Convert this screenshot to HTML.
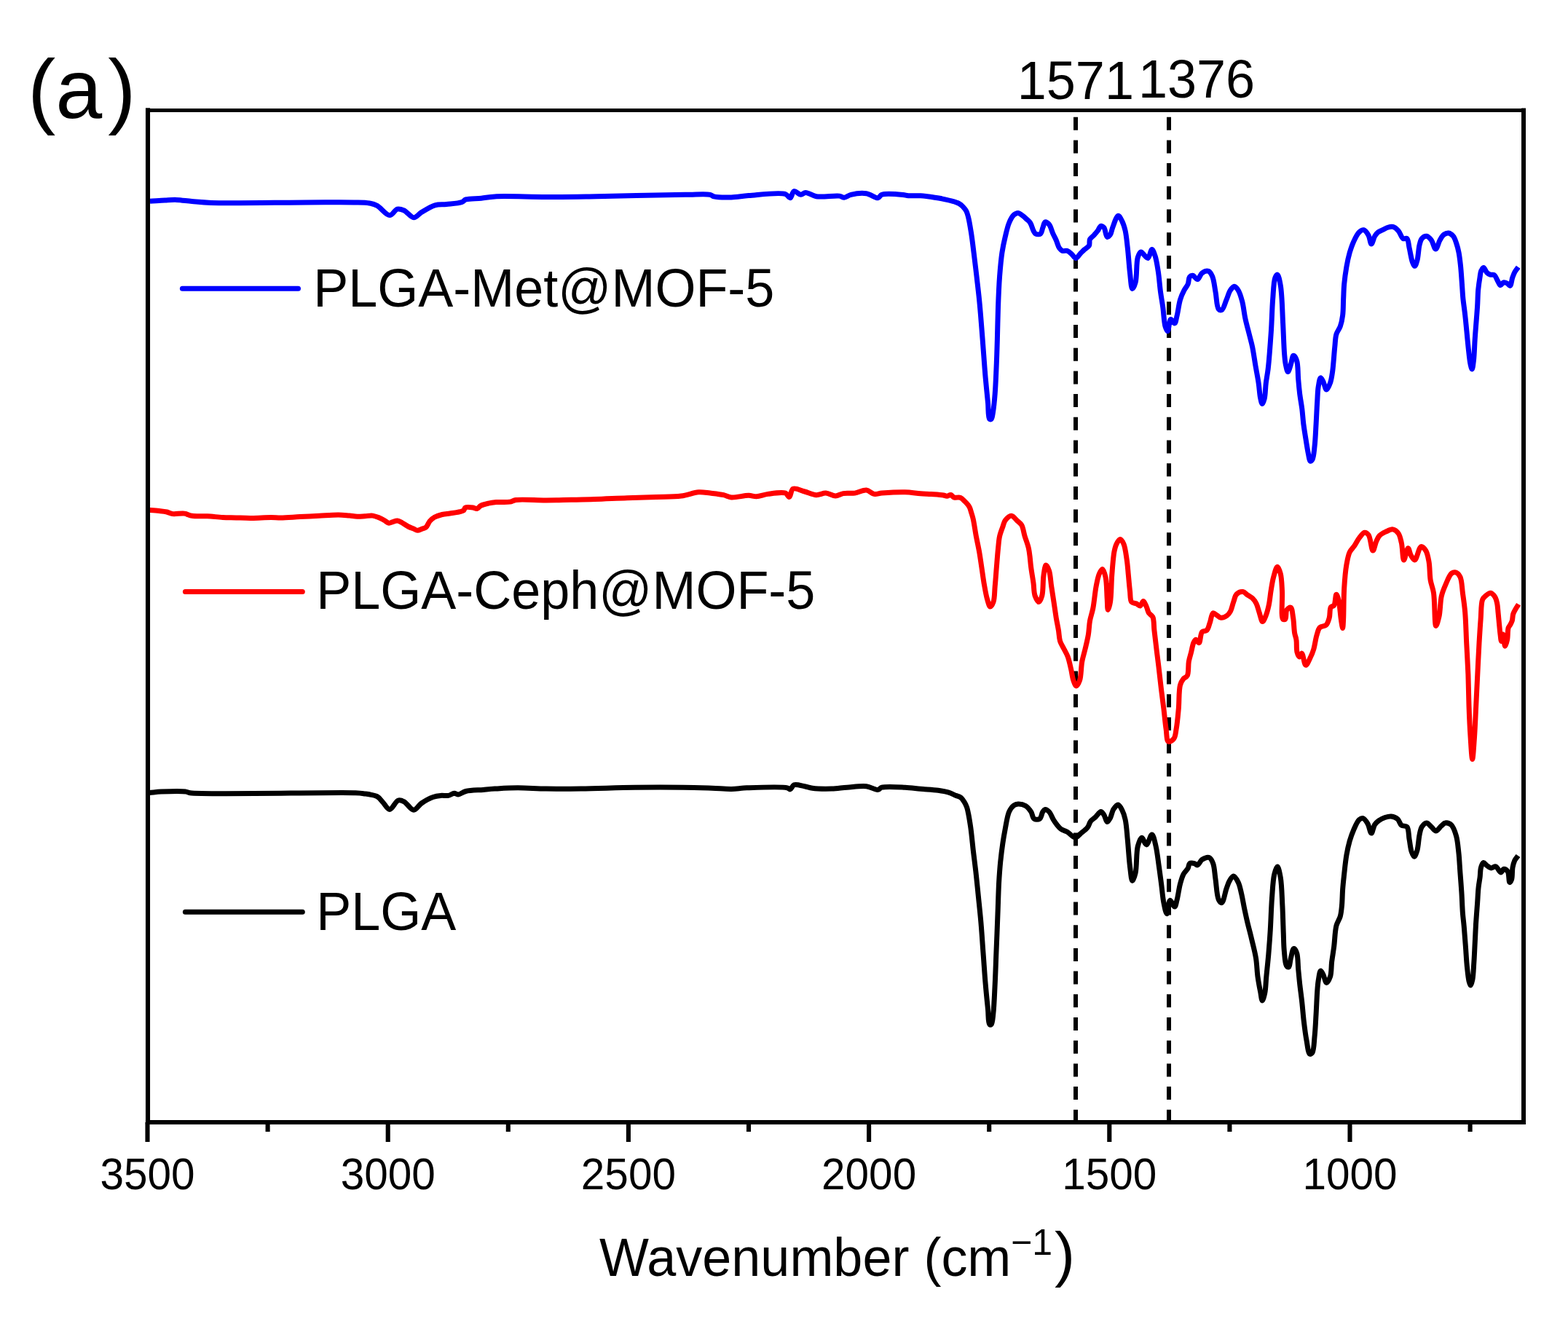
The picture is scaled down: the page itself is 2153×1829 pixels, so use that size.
<!DOCTYPE html>
<html><head><meta charset="utf-8"><title>FTIR spectra</title>
<style>html,body{margin:0;padding:0;background:#fff;}svg{display:block;}</style>
</head><body>
<svg width="2153" height="1829" viewBox="0 0 2153 1829">
<rect width="2153" height="1829" fill="#fff"/>
<g stroke="#000" stroke-width="6" stroke-dasharray="18 13.7">
<line x1="1477" y1="160.7" x2="1477" y2="1538"/>
<line x1="1605" y1="160.7" x2="1605" y2="1538"/>
</g>
<g fill="none" stroke-width="7.0" stroke-linejoin="round" stroke-linecap="butt">
<path stroke="#0000ff" d="M206.0,276.3C212.8,275.9 220.1,275.3 226.5,275.0C232.1,274.7 236.7,274.2 242.4,274.4C249.0,274.6 256.1,275.9 263.6,276.5C271.9,277.2 277.9,278.0 290.0,278.4C316.9,279.3 383.7,278.0 419.8,277.9C445.5,277.9 470.1,277.5 486.0,277.9C495.0,278.1 501.4,277.9 507.2,279.0C511.4,279.8 514.0,280.4 517.8,282.4C523.1,285.2 530.0,295.7 535.0,295.6C539.0,295.6 542.0,288.0 545.6,287.1C548.6,286.4 551.7,287.6 554.9,289.0C559.1,290.9 563.9,298.7 568.1,298.8C571.8,298.9 574.6,294.1 578.7,291.6C583.9,288.4 591.1,283.6 597.2,281.8C602.5,280.2 607.4,281.1 613.1,280.5C619.7,279.8 629.7,279.4 634.3,277.6C636.8,276.6 637.1,274.8 639.6,273.9C644.2,272.3 654.0,273.0 660.8,272.3C667.2,271.6 671.1,270.4 679.3,269.9C695.2,268.9 726.6,270.5 750.0,270.5C773.1,270.5 792.7,270.1 818.9,269.7C853.8,269.2 912.5,267.6 940.7,267.3C955.7,267.2 968.7,265.8 975.1,267.3C977.7,267.9 977.9,269.3 980.4,269.9C985.4,271.2 996.3,271.2 1004.2,271.0C1012.1,270.8 1018.6,269.3 1028.0,268.6C1041.7,267.6 1069.7,263.6 1078.4,266.5C1082.0,267.7 1083.1,272.2 1085.0,271.8C1087.1,271.4 1087.8,263.2 1090.3,262.5C1092.7,261.8 1096.7,267.2 1099.6,267.3C1102.0,267.4 1103.5,264.5 1106.2,264.4C1110.1,264.3 1114.9,268.7 1120.8,269.7C1129.2,271.1 1145.9,268.2 1152.5,269.1C1155.6,269.5 1156.8,271.3 1159.2,271.2C1162.0,271.1 1164.6,268.2 1168.4,267.3C1173.9,266.0 1183.1,264.8 1189.6,265.7C1195.4,266.5 1201.7,272.4 1205.5,271.8C1207.9,271.4 1208.1,268.3 1210.8,267.3C1216.4,265.3 1233.6,266.9 1240.0,267.5C1243.2,267.8 1244.3,268.5 1247.2,268.7C1251.6,269.1 1258.7,268.4 1264.1,268.7C1269.1,269.0 1273.7,269.7 1278.5,270.4C1283.3,271.1 1288.2,271.8 1293.0,272.8C1297.8,273.8 1303.1,274.9 1307.4,276.2C1311.0,277.2 1314.4,278.2 1317.0,279.6C1319.0,280.7 1320.3,281.9 1321.8,283.4C1323.5,285.2 1325.4,287.3 1326.7,289.7C1328.1,292.2 1328.7,294.8 1329.6,298.3C1331.0,303.7 1332.2,311.5 1333.4,318.9C1334.8,327.5 1335.9,337.2 1337.1,346.9C1338.4,357.3 1339.7,368.5 1341.0,379.3C1342.2,390.1 1343.5,400.8 1344.6,411.6C1345.7,422.4 1346.5,432.4 1347.4,443.9C1348.5,457.2 1349.7,473.7 1350.7,487.0C1351.6,498.5 1352.2,508.4 1353.2,519.3C1354.2,530.4 1355.5,542.9 1356.5,553.0C1357.3,561.2 1356.5,573.5 1358.6,575.4C1359.3,576.0 1360.5,575.9 1361.2,575.4C1362.5,574.4 1362.7,570.4 1363.4,566.7C1364.5,560.4 1365.5,549.9 1366.2,540.8C1367.0,530.6 1367.4,520.0 1367.9,508.5C1368.5,495.2 1369.0,479.8 1369.4,465.4C1369.8,451.0 1370.0,436.7 1370.5,422.3C1371.0,408.0 1371.6,392.6 1372.6,379.3C1373.5,367.7 1374.4,356.6 1375.9,346.9C1377.1,339.0 1378.5,332.4 1380.2,325.4C1381.8,318.7 1383.3,311.4 1385.6,306.0C1387.4,301.7 1389.5,297.5 1392.0,295.2C1393.8,293.6 1396.1,292.3 1398.0,292.4C1399.7,292.5 1401.1,294.0 1402.8,295.2C1404.9,296.6 1407.3,298.7 1409.3,300.6C1411.2,302.4 1413.1,303.7 1414.6,306.0C1416.5,308.8 1417.5,314.1 1419.0,316.8C1420.0,318.6 1420.7,320.4 1422.2,321.1C1423.8,321.9 1427.0,322.2 1428.6,321.1C1430.5,319.8 1430.8,315.3 1431.9,312.5C1433.0,309.9 1433.5,305.4 1435.1,304.9C1436.5,304.5 1438.9,306.4 1440.5,308.2C1442.8,310.9 1444.1,317.3 1445.9,321.1C1447.4,324.3 1448.8,326.6 1450.2,329.7C1451.7,333.1 1452.7,337.9 1454.5,340.5C1455.8,342.3 1457.1,343.7 1458.8,344.4C1460.6,345.1 1463.2,343.7 1465.3,344.4C1467.6,345.1 1469.7,347.4 1471.7,349.1C1473.6,350.8 1475.2,354.5 1477.1,354.5C1479.2,354.5 1481.5,350.1 1483.6,348.0C1485.5,346.1 1487.1,344.4 1489.0,342.6C1491.0,340.8 1494.1,339.5 1495.4,337.2C1496.7,334.9 1495.3,331.0 1496.5,328.6C1497.6,326.4 1500.1,325.1 1501.9,323.2C1503.7,321.2 1505.7,319.0 1507.3,316.8C1508.9,314.7 1509.9,310.7 1511.6,310.3C1512.9,310.0 1514.7,311.1 1515.9,312.5C1517.9,314.9 1518.2,324.8 1520.2,325.4C1521.4,325.8 1523.3,323.8 1524.5,322.2C1526.1,320.0 1526.3,316.1 1527.7,312.5C1529.6,307.7 1532.9,296.5 1535.4,296.3C1537.2,296.1 1539.3,300.9 1540.8,303.9C1542.6,307.5 1543.9,311.8 1545.1,316.8C1546.6,323.4 1547.3,331.9 1548.3,340.5C1549.5,350.9 1550.3,364.8 1551.5,374.9C1552.5,383.0 1553.1,396.2 1554.8,396.5C1556.0,396.7 1558.0,391.9 1559.1,387.9C1561.3,380.4 1560.0,360.6 1562.3,353.4C1563.4,349.8 1564.9,346.1 1566.6,345.9C1568.2,345.7 1570.3,349.7 1572.0,351.2C1573.5,352.5 1575.0,354.8 1576.3,354.5C1578.4,354.0 1580.0,342.6 1581.7,342.6C1583.2,342.6 1584.8,347.6 1586.0,351.2C1587.9,356.7 1589.1,365.1 1590.3,372.8C1591.7,381.5 1592.3,392.1 1593.5,400.8C1594.5,408.4 1595.8,414.8 1596.8,422.3C1597.9,430.5 1598.3,442.5 1600.0,448.2C1600.9,451.2 1602.2,454.8 1603.2,454.7C1604.8,454.5 1605.4,439.1 1607.6,438.5C1609.1,438.1 1611.5,444.2 1612.9,443.9C1614.6,443.5 1615.1,437.3 1616.2,433.1C1617.7,427.2 1618.6,417.8 1620.5,411.6C1622.0,406.6 1623.9,402.4 1625.9,398.6C1627.6,395.4 1629.9,393.1 1631.2,390.0C1632.4,387.0 1631.9,382.2 1633.4,380.3C1634.5,379.0 1636.2,378.0 1637.7,378.2C1639.7,378.4 1642.2,383.8 1644.2,383.6C1646.5,383.3 1647.9,376.8 1650.6,374.9C1653.0,373.2 1657.0,371.6 1659.3,372.4C1661.6,373.2 1663.2,376.1 1664.6,379.3C1666.9,384.3 1667.6,393.5 1669.0,400.8C1670.5,408.5 1670.5,421.5 1673.3,424.5C1674.5,425.8 1676.3,426.2 1677.6,425.6C1680.1,424.4 1682.0,416.2 1684.0,411.6C1685.9,407.2 1687.2,401.8 1689.4,398.6C1691.0,396.2 1693.0,393.3 1694.8,393.3C1696.6,393.3 1698.6,396.1 1700.2,398.6C1702.5,402.2 1704.1,408.0 1705.6,413.7C1707.5,420.6 1708.2,429.7 1709.9,437.4C1711.5,444.8 1713.6,452.2 1715.3,459.0C1716.8,465.1 1718.3,469.9 1719.6,476.2C1721.2,483.9 1722.5,493.6 1723.9,502.0C1725.3,510.1 1727.0,518.2 1728.1,525.9C1729.2,533.0 1729.5,541.1 1730.6,546.3C1731.3,549.7 1732.2,554.5 1733.2,554.5C1734.1,554.5 1735.4,550.4 1736.2,547.3C1737.5,542.1 1737.4,532.9 1738.3,525.9C1739.1,519.0 1740.4,513.8 1741.3,505.5C1742.8,492.4 1744.3,470.9 1745.4,454.7C1746.4,439.8 1746.6,424.7 1747.6,411.6C1748.5,400.6 1748.7,386.8 1750.8,381.4C1751.7,379.1 1753.0,376.9 1754.0,377.1C1755.7,377.4 1757.2,385.6 1758.3,392.2C1760.4,404.2 1760.7,427.4 1761.6,443.9C1762.4,458.9 1762.8,476.7 1763.7,487.0C1764.2,492.7 1764.4,496.3 1765.3,500.4C1766.1,504.1 1767.2,510.6 1768.4,510.6C1769.6,510.6 1771.2,504.0 1772.4,500.4C1773.7,496.5 1774.4,488.4 1776.0,488.2C1777.3,488.0 1779.5,492.0 1780.6,495.3C1782.5,501.0 1782.0,512.8 1782.7,520.8C1783.3,528.0 1783.9,534.4 1784.7,541.2C1785.6,548.0 1786.9,554.8 1787.8,561.6C1788.6,568.4 1789.0,575.2 1789.8,582.0C1790.7,588.8 1791.8,595.6 1792.9,602.4C1794.0,609.2 1795.2,617.3 1796.4,622.9C1797.3,626.9 1797.6,632.6 1799.0,633.1C1799.8,633.4 1801.2,632.3 1802.0,631.0C1803.9,628.0 1804.3,619.6 1805.1,612.7C1806.1,603.8 1806.5,592.2 1807.1,582.0C1807.7,571.8 1808.1,560.6 1808.7,551.4C1809.2,543.9 1809.2,536.9 1810.2,531.0C1811.0,526.4 1811.9,519.1 1813.3,518.8C1814.3,518.6 1815.7,521.8 1816.8,523.9C1818.4,526.8 1819.7,535.0 1821.4,535.1C1823.0,535.2 1825.2,529.5 1826.5,525.9C1828.1,521.5 1828.7,516.7 1829.6,510.6C1830.9,501.5 1831.8,485.7 1832.8,476.2C1833.5,469.5 1833.4,464.0 1834.9,459.0C1836.1,454.9 1838.9,452.2 1840.3,448.2C1841.9,443.7 1842.9,438.6 1843.6,433.1C1844.5,426.6 1844.3,418.8 1844.6,411.6C1845.0,404.4 1845.0,397.4 1845.7,390.0C1846.4,382.3 1847.6,373.8 1848.9,366.3C1850.1,359.5 1851.5,352.9 1853.2,346.9C1854.8,341.5 1856.4,336.6 1858.6,331.9C1860.7,327.3 1863.3,321.6 1866.2,318.9C1868.2,317.0 1870.6,315.3 1872.6,315.7C1875.0,316.2 1877.4,320.2 1879.1,323.2C1881.0,326.6 1881.5,335.0 1883.0,335.1C1884.4,335.2 1886.0,327.2 1887.7,324.3C1889.0,322.1 1890.2,320.3 1892.0,318.9C1893.8,317.4 1896.3,316.8 1898.5,315.7C1900.6,314.6 1902.6,313.2 1904.9,312.5C1907.3,311.8 1910.1,310.8 1912.5,311.4C1915.1,312.0 1917.8,314.4 1920.0,316.8C1922.6,319.6 1924.0,326.2 1926.5,327.6C1928.1,328.5 1930.5,326.5 1931.9,327.6C1934.0,329.3 1934.0,335.8 1935.1,340.5C1936.5,346.3 1937.7,355.5 1939.4,359.9C1940.4,362.4 1941.6,365.4 1942.6,365.3C1943.8,365.2 1945.0,361.0 1945.9,357.7C1947.4,352.4 1947.7,341.7 1949.1,336.2C1950.0,332.6 1950.5,329.6 1952.3,327.6C1953.9,325.8 1956.7,324.1 1958.8,324.3C1961.1,324.6 1963.4,327.3 1965.3,329.7C1967.7,332.8 1969.3,342.0 1971.3,342.0C1973.3,342.0 1975.0,333.2 1977.1,329.7C1978.8,326.8 1980.3,323.8 1982.5,322.2C1984.4,320.8 1986.9,319.7 1989.0,320.0C1991.2,320.3 1993.7,322.3 1995.4,324.3C1997.4,326.7 1998.5,330.5 1999.7,334.0C2001.1,338.0 2002.2,342.3 2003.1,347.0C2004.1,352.3 2004.7,357.6 2005.4,364.0C2006.3,372.2 2007.0,384.1 2007.6,392.4C2008.1,398.8 2008.2,403.3 2008.8,409.4C2009.5,416.4 2010.8,424.5 2011.6,432.0C2012.5,439.6 2013.1,447.1 2013.9,454.7C2014.6,462.3 2015.3,469.8 2016.1,477.4C2017.0,485.0 2017.8,494.8 2019.0,500.1C2019.7,503.1 2020.5,506.9 2021.2,506.9C2022.1,506.8 2022.9,499.4 2023.5,494.4C2024.4,486.9 2024.6,474.9 2025.2,466.0C2025.7,458.0 2026.3,450.9 2026.9,443.4C2027.5,435.8 2028.1,428.3 2028.6,420.7C2029.1,413.1 2029.1,405.0 2029.7,398.0C2030.3,391.9 2031.2,385.8 2032.0,381.0C2032.6,377.5 2032.6,374.4 2033.7,372.0C2034.5,370.1 2035.9,367.4 2037.1,367.4C2038.5,367.4 2039.9,372.5 2041.6,374.2C2043.0,375.6 2044.5,376.5 2046.2,377.1C2047.9,377.7 2050.2,376.6 2051.8,377.6C2053.8,378.9 2054.9,383.1 2056.4,385.6C2057.7,387.8 2058.9,391.6 2060.3,391.8C2061.5,391.9 2062.7,388.2 2064.3,387.8C2065.8,387.4 2067.9,388.2 2069.4,389.0C2070.9,389.8 2072.3,392.7 2073.4,392.4C2075.1,391.9 2075.6,384.4 2076.8,381.0C2077.9,378.1 2078.8,375.5 2080.2,373.1C2081.5,370.8 2083.2,368.9 2084.7,366.8"/>
<path stroke="#ff0000" d="M204.0,700.3C208.8,700.7 214.0,701.1 218.5,701.6C222.3,702.0 225.8,702.3 229.1,703.0C232.0,703.7 233.9,705.1 237.1,705.6C241.5,706.2 248.3,704.5 253.0,705.1C256.9,705.6 259.4,707.6 263.6,708.3C269.4,709.2 277.7,708.5 284.7,708.8C291.8,709.1 299.1,710.1 305.9,710.4C312.3,710.7 318.1,710.7 324.5,710.9C331.3,711.1 338.2,711.5 345.7,711.4C354.0,711.3 364.8,710.4 372.1,710.4C377.3,710.4 380.2,710.9 385.4,710.9C392.7,710.9 403.1,710.0 411.9,709.6C420.7,709.2 429.5,708.7 438.3,708.3C447.1,707.8 457.2,706.8 464.8,706.9C470.6,707.0 475.4,707.7 480.0,708.1C483.9,708.5 487.1,709.1 490.6,709.2C494.1,709.3 497.7,708.9 501.2,708.7C504.7,708.5 508.5,707.7 511.8,708.1C514.8,708.5 517.6,709.7 520.3,710.8C522.9,711.9 525.4,713.2 527.7,714.5C529.9,715.7 531.9,718.0 534.0,718.2C535.8,718.4 537.4,717.1 539.3,716.6C541.3,716.0 543.6,714.8 545.7,715.0C547.8,715.2 549.8,716.5 552.0,717.7C554.7,719.1 557.7,721.6 560.5,723.0C563.0,724.3 565.6,725.2 567.9,726.1C569.8,726.9 571.3,728.2 573.2,728.3C575.2,728.4 577.6,726.8 579.6,726.1C581.5,725.4 583.3,725.3 584.9,724.0C587.0,722.3 588.1,717.9 590.2,715.5C592.1,713.4 594.0,711.7 596.5,710.3C599.5,708.6 603.5,707.4 607.1,706.5C610.6,705.6 614.2,705.5 617.7,705.0C621.2,704.5 625.0,704.2 628.3,703.4C631.3,702.7 635.0,702.1 636.8,700.7C638.0,699.7 637.6,697.8 638.9,697.0C640.9,695.8 646.6,696.6 649.5,697.0C651.6,697.3 653.1,698.9 654.8,698.6C656.7,698.2 657.9,695.6 660.1,694.4C662.9,692.9 667.1,692.0 670.7,691.2C674.2,690.4 677.3,690.0 681.3,689.6C686.6,689.1 695.0,689.9 700.0,689.1C703.4,688.5 704.5,687.1 708.5,686.5C717.1,685.3 736.8,687.0 750.0,686.9C762.0,686.9 773.2,686.5 784.4,686.3C795.2,686.1 804.7,686.0 816.2,685.6C829.9,685.2 846.7,684.2 861.2,683.7C874.9,683.2 888.2,682.9 901.0,682.4C912.9,682.0 925.0,682.3 935.4,681.0C944.1,679.9 952.0,676.3 959.2,675.8C965.0,675.4 969.6,676.5 975.1,677.1C981.0,677.8 988.3,678.5 993.6,679.7C997.7,680.6 999.9,682.5 1004.2,682.9C1010.5,683.5 1021.7,680.2 1028.1,680.3C1032.3,680.4 1034.8,681.9 1038.7,681.8C1043.5,681.6 1048.7,679.2 1054.5,678.4C1061.6,677.4 1073.5,675.2 1078.4,677.1C1081.1,678.1 1082.1,682.7 1083.7,682.4C1085.8,682.0 1085.9,672.7 1089.0,671.2C1092.6,669.5 1099.6,673.6 1104.9,675.0C1110.2,676.4 1115.7,679.5 1120.8,679.7C1125.4,679.9 1129.6,676.9 1134.0,677.1C1138.4,677.3 1143.0,681.0 1147.2,681.0C1150.9,681.0 1153.9,678.3 1157.8,677.6C1162.5,676.8 1168.4,677.8 1173.7,677.1C1179.0,676.4 1184.9,672.6 1189.6,673.1C1193.6,673.5 1196.6,677.8 1200.2,678.4C1203.6,679.0 1206.3,677.5 1210.8,677.1C1218.6,676.5 1233.1,675.6 1242.6,675.8C1250.4,676.0 1257.6,677.3 1264.0,677.8C1269.3,678.2 1273.5,678.2 1278.5,678.5C1283.9,678.9 1291.5,679.3 1295.4,680.0C1297.5,680.4 1298.6,681.3 1300.2,681.2C1301.9,681.1 1303.9,679.2 1305.5,679.5C1307.1,679.8 1308.0,682.2 1309.8,682.9C1312.2,683.8 1316.5,682.4 1319.0,683.4C1321.2,684.3 1322.6,686.4 1324.3,688.0C1326.0,689.6 1327.8,691.5 1329.1,693.2C1330.1,694.5 1330.8,695.5 1331.5,697.0C1332.4,699.0 1333.1,701.9 1333.9,704.5C1334.7,707.2 1335.5,709.4 1336.3,713.0C1337.6,718.8 1338.9,728.6 1340.3,736.2C1341.7,743.5 1343.3,750.5 1344.6,757.7C1345.9,764.9 1346.8,772.1 1347.9,779.3C1349.0,786.5 1349.9,793.6 1351.1,800.8C1352.4,808.0 1353.7,816.4 1355.4,822.3C1356.7,826.6 1358.1,832.9 1359.7,833.1C1361.0,833.2 1362.9,829.6 1364.0,826.6C1365.8,821.7 1365.5,812.6 1366.2,805.1C1367.0,796.9 1367.6,787.9 1368.3,779.3C1369.0,770.7 1369.7,761.1 1370.5,753.4C1371.2,747.1 1371.4,741.5 1372.6,736.2C1373.7,731.5 1375.5,727.1 1376.9,723.2C1378.0,720.0 1378.4,717.0 1380.2,714.6C1382.2,712.0 1386.1,708.1 1388.8,708.2C1391.4,708.3 1393.9,712.4 1396.3,714.6C1398.6,716.7 1401.1,718.2 1402.8,721.1C1405.0,724.9 1405.5,731.0 1407.1,736.2C1408.8,741.8 1411.1,747.0 1412.5,753.4C1414.2,761.1 1414.6,771.1 1415.7,779.3C1416.7,786.8 1418.1,794.0 1419.0,800.8C1419.8,806.8 1419.5,813.4 1421.1,818.0C1422.4,821.5 1424.9,826.7 1426.5,826.6C1428.1,826.5 1429.7,821.8 1430.8,818.0C1432.6,811.5 1431.8,797.7 1433.0,790.0C1433.8,784.5 1434.7,776.2 1436.2,776.0C1437.4,775.8 1439.4,780.3 1440.5,783.6C1442.3,788.8 1442.6,797.9 1443.7,805.1C1444.8,812.3 1445.9,819.4 1447.0,826.6C1448.1,833.8 1449.1,841.4 1450.2,848.2C1451.2,854.3 1452.5,859.8 1453.4,865.4C1454.3,870.6 1454.2,876.0 1455.6,880.5C1456.9,884.5 1459.2,887.7 1461.0,891.3C1462.8,894.9 1464.8,897.9 1466.3,902.0C1468.1,907.0 1469.4,913.7 1470.7,919.3C1471.9,924.5 1472.4,930.3 1473.9,934.4C1475.0,937.4 1476.4,941.8 1477.8,941.9C1479.2,942.0 1481.3,937.8 1482.5,934.4C1484.6,928.5 1484.3,916.2 1485.7,908.5C1486.9,902.1 1488.6,897.2 1490.0,891.3C1491.5,885.0 1493.2,878.4 1494.3,871.9C1495.4,865.5 1495.4,858.7 1496.5,852.5C1497.6,846.6 1499.5,841.9 1500.8,835.3C1502.5,826.7 1503.4,813.7 1505.1,805.1C1506.4,798.5 1507.5,792.2 1509.4,787.9C1510.6,785.1 1512.4,781.3 1513.7,781.4C1515.3,781.6 1516.9,787.6 1518.0,792.2C1519.7,799.6 1519.6,814.0 1520.2,822.3C1520.6,828.2 1520.5,837.3 1521.3,837.4C1522.0,837.5 1523.7,831.3 1524.5,826.6C1526.0,818.1 1525.8,801.8 1526.7,790.0C1527.6,778.9 1528.4,765.5 1529.9,757.7C1530.8,753.1 1531.5,749.9 1533.1,746.9C1534.4,744.3 1536.6,740.5 1538.2,740.5C1539.8,740.5 1541.6,743.9 1542.9,746.9C1545.1,751.8 1546.1,761.3 1547.2,768.5C1548.3,775.6 1548.7,782.8 1549.4,790.0C1550.1,797.2 1550.7,805.1 1551.5,811.6C1552.2,817.1 1551.5,823.9 1553.7,826.6C1555.2,828.4 1558.2,827.9 1560.2,828.8C1562.1,829.7 1563.9,832.3 1565.5,832.0C1567.2,831.6 1568.5,825.5 1569.9,825.6C1571.4,825.7 1573.0,830.5 1574.2,833.1C1575.5,835.8 1575.9,839.3 1577.4,841.7C1578.8,843.9 1581.5,844.5 1582.8,847.1C1584.8,851.2 1584.1,858.7 1584.9,865.4C1585.9,873.7 1587.1,884.3 1588.2,893.4C1589.3,902.2 1590.4,910.5 1591.4,919.3C1592.5,928.4 1593.5,938.2 1594.6,947.3C1595.7,956.1 1596.8,964.3 1597.9,973.1C1599.0,982.2 1599.9,992.9 1601.1,1001.1C1602.1,1007.6 1601.7,1017.2 1604.3,1018.4C1606.1,1019.2 1610.1,1016.5 1611.9,1014.1C1614.1,1011.2 1614.2,1006.3 1615.1,1001.1C1616.5,993.6 1617.4,982.8 1618.3,973.1C1619.2,962.7 1618.5,948.0 1620.5,940.8C1621.6,936.9 1623.0,934.4 1624.8,932.2C1626.3,930.3 1628.9,930.2 1630.2,927.9C1632.4,924.0 1631.3,914.3 1632.3,908.5C1633.2,903.7 1634.5,899.9 1635.6,895.6C1636.7,891.3 1637.4,885.8 1638.8,882.7C1639.7,880.7 1640.8,878.4 1642.0,878.3C1643.3,878.2 1645.1,883.0 1646.3,882.7C1648.3,882.2 1648.1,870.3 1650.6,867.6C1652.3,865.8 1655.4,867.0 1657.1,865.4C1659.3,863.3 1660.0,858.5 1661.4,854.7C1662.9,850.6 1663.5,842.5 1665.7,841.7C1667.2,841.2 1669.3,843.9 1671.1,845.0C1672.9,846.1 1674.4,848.0 1676.5,848.2C1679.0,848.4 1682.9,846.6 1685.1,845.0C1687.0,843.6 1688.1,841.9 1689.4,839.6C1691.2,836.3 1692.2,830.7 1693.7,826.6C1695.1,822.8 1695.6,818.2 1698.0,815.9C1700.1,813.8 1704.0,812.3 1706.6,812.6C1709.0,812.9 1710.9,815.5 1713.1,817.0C1715.3,818.4 1717.7,819.5 1719.6,821.3C1721.7,823.3 1723.5,825.8 1725.0,828.8C1726.8,832.4 1727.8,837.5 1729.3,841.7C1730.7,845.8 1732.0,853.5 1733.6,853.6C1734.9,853.7 1736.6,849.0 1737.9,846.0C1739.6,841.9 1741.0,836.5 1742.2,831.0C1743.6,824.5 1744.2,816.2 1745.4,809.4C1746.4,803.3 1747.2,797.6 1748.7,792.2C1750.1,787.2 1752.3,778.2 1754.0,778.2C1755.5,778.2 1757.2,783.8 1758.3,787.9C1759.9,794.0 1760.0,802.7 1760.5,811.6C1761.2,822.9 1758.6,847.4 1761.6,850.3C1762.5,851.1 1764.0,851.0 1764.8,850.3C1766.5,848.9 1765.2,840.1 1767.0,837.4C1768.3,835.6 1770.9,833.6 1772.3,834.2C1774.4,835.1 1774.7,843.0 1775.6,848.2C1776.7,854.6 1776.7,864.2 1777.7,869.7C1778.3,873.2 1779.4,874.9 1779.9,878.3C1780.7,883.0 1779.8,891.3 1781.0,895.6C1781.7,898.3 1783.1,901.9 1784.2,902.0C1785.2,902.1 1786.4,897.0 1787.5,897.1C1789.3,897.4 1790.7,913.1 1792.9,913.3C1794.8,913.5 1797.6,906.2 1799.4,902.5C1801.2,899.0 1802.4,895.9 1803.7,891.7C1805.4,886.2 1806.3,877.8 1808.0,872.3C1809.3,868.1 1809.9,863.9 1812.3,861.6C1814.4,859.5 1818.8,860.3 1820.9,858.3C1823.2,856.1 1824.1,852.3 1825.2,848.6C1826.5,844.2 1825.5,836.2 1827.4,833.6C1828.5,832.1 1830.6,832.9 1831.7,831.4C1833.7,828.8 1833.6,816.4 1834.9,816.3C1835.9,816.2 1837.3,821.3 1838.2,825.0C1839.7,831.3 1840.3,843.9 1841.4,850.8C1842.1,855.5 1843.1,862.6 1843.6,862.6C1844.1,862.6 1844.3,856.0 1844.6,850.8C1845.1,840.9 1844.9,821.0 1845.7,807.7C1846.4,796.1 1847.3,784.4 1848.9,775.4C1850.1,768.7 1851.0,762.8 1853.2,758.2C1854.9,754.6 1857.6,752.6 1859.7,749.5C1861.9,746.2 1863.8,741.9 1866.2,738.8C1868.5,735.9 1871.3,731.5 1873.7,731.2C1875.6,731.0 1877.6,732.5 1879.1,734.5C1882.0,738.3 1883.1,755.9 1885.1,756.0C1886.7,756.1 1888.2,746.8 1889.9,743.1C1891.3,740.2 1892.2,737.6 1894.2,735.5C1896.4,733.2 1899.8,731.6 1902.8,730.2C1905.9,728.8 1909.6,726.5 1912.5,726.9C1915.3,727.3 1918.1,729.7 1920.0,732.3C1922.3,735.4 1923.1,740.2 1924.3,745.2C1925.9,751.8 1925.9,768.7 1927.6,768.9C1929.1,769.1 1931.6,752.8 1933.4,752.8C1934.8,752.8 1935.6,759.7 1937.3,762.5C1938.8,765.0 1940.8,769.1 1942.6,768.9C1945.4,768.5 1948.1,751.3 1951.3,750.6C1953.3,750.2 1956.0,753.4 1957.7,756.0C1960.0,759.5 1960.9,765.3 1962.0,771.1C1963.4,778.5 1962.9,789.2 1964.2,796.9C1965.3,803.3 1967.4,807.0 1968.5,814.2C1970.3,825.7 1969.6,859.1 1971.7,859.4C1972.8,859.5 1974.8,851.7 1976.0,846.5C1977.7,839.0 1977.5,826.3 1979.3,818.5C1980.7,812.6 1982.5,808.4 1984.7,803.4C1987.1,798.0 1990.0,789.6 1993.3,787.2C1995.3,785.8 1997.8,785.5 1999.7,786.2C2001.8,787.0 2003.7,789.6 2005.1,792.6C2007.3,797.5 2007.4,806.7 2008.4,814.2C2009.5,822.4 2010.8,830.3 2011.6,840.0C2012.7,852.5 2013.0,868.7 2013.7,883.1C2014.4,897.5 2015.3,911.8 2015.9,926.2C2016.4,940.6 2016.5,954.9 2017.0,969.3C2017.5,983.7 2018.2,999.3 2019.1,1012.4C2019.8,1023.3 2020.8,1042.5 2021.7,1042.5C2022.6,1042.5 2023.7,1023.3 2024.5,1012.4C2025.4,999.3 2026.0,983.7 2026.7,969.3C2027.4,954.9 2028.1,940.6 2028.8,926.2C2029.5,911.8 2030.2,896.4 2031.0,883.1C2031.7,871.6 2032.3,861.1 2033.1,850.8C2033.9,841.2 2033.4,828.6 2035.7,823.2C2036.8,820.5 2038.3,819.5 2040.1,818.0C2042.0,816.5 2044.6,814.1 2046.7,814.3C2048.8,814.5 2051.1,817.3 2052.6,819.5C2054.2,821.9 2054.9,825.0 2055.6,828.3C2056.5,832.2 2056.6,837.1 2057.1,841.6C2057.6,846.4 2058.0,851.4 2058.5,856.3C2059.0,861.2 2059.4,866.7 2060.0,871.1C2060.5,874.6 2060.9,880.6 2061.5,880.6C2062.1,880.6 2063.0,871.1 2063.7,871.1C2064.7,871.1 2065.4,887.2 2066.6,887.3C2067.5,887.4 2068.9,881.9 2069.6,878.4C2070.6,873.8 2070.0,865.6 2071.1,862.2C2071.7,860.4 2072.5,859.9 2073.3,858.5C2074.2,856.8 2075.5,854.9 2076.2,852.6C2077.1,849.9 2076.8,846.0 2077.7,843.1C2078.6,840.4 2080.1,838.0 2081.4,835.7C2082.6,833.6 2083.9,831.8 2085.1,829.8"/>
<path stroke="#000000" d="M205.3,1088.4C210.6,1088.0 214.9,1087.4 221.2,1087.1C230.5,1086.7 249.2,1086.2 255.6,1087.1C258.2,1087.5 257.8,1088.2 260.9,1088.7C280.8,1091.6 456.7,1087.6 486.0,1088.7C493.1,1089.0 494.5,1089.0 499.3,1089.7C505.0,1090.5 513.2,1091.2 517.8,1093.7C521.3,1095.6 523.0,1098.8 525.7,1101.6C528.7,1104.7 531.7,1111.4 535.0,1111.4C538.7,1111.4 543.0,1100.2 546.9,1099.0C549.6,1098.2 552.1,1099.4 554.9,1100.8C559.0,1102.9 563.9,1112.2 568.1,1112.2C571.8,1112.2 574.6,1105.8 578.7,1103.0C583.3,1099.8 589.7,1096.2 594.6,1094.5C598.4,1093.1 601.6,1092.7 605.2,1092.4C608.7,1092.1 612.6,1093.0 615.8,1092.4C618.7,1091.8 621.3,1089.3 623.7,1089.2C625.6,1089.1 626.9,1091.1 629.0,1091.0C631.9,1090.9 635.3,1087.6 639.6,1086.5C645.9,1084.9 656.4,1085.0 663.5,1084.4C669.3,1083.9 673.1,1083.5 679.3,1083.1C688.1,1082.6 700.0,1081.8 711.1,1081.8C723.4,1081.8 736.4,1082.9 750.0,1083.1C765.1,1083.4 780.1,1083.3 797.7,1083.1C819.7,1082.8 847.8,1081.5 871.8,1081.2C894.5,1080.9 918.7,1080.9 938.0,1081.2C952.9,1081.4 965.9,1081.9 977.8,1082.3C987.5,1082.6 995.9,1083.5 1004.2,1083.4C1011.7,1083.3 1016.7,1082.1 1025.4,1081.8C1039.5,1081.3 1073.2,1079.9 1081.0,1081.8C1083.2,1082.3 1083.7,1084.1 1085.0,1083.9C1086.8,1083.6 1087.8,1078.8 1090.3,1077.8C1093.7,1076.5 1100.4,1078.9 1104.9,1079.7C1108.7,1080.4 1111.1,1081.7 1115.5,1082.3C1122.3,1083.2 1133.7,1083.3 1142.0,1083.1C1149.4,1082.9 1155.7,1081.7 1163.1,1081.2C1171.4,1080.6 1182.0,1078.8 1189.6,1079.7C1195.6,1080.4 1201.7,1084.9 1205.5,1084.4C1207.8,1084.1 1208.1,1081.9 1210.8,1081.2C1216.8,1079.5 1233.0,1080.7 1242.6,1081.2C1250.5,1081.6 1256.7,1082.6 1264.1,1083.3C1271.9,1084.0 1281.1,1084.3 1288.1,1085.3C1293.6,1086.1 1298.3,1086.9 1302.6,1088.2C1306.2,1089.3 1309.2,1090.9 1312.2,1092.2C1314.8,1093.3 1317.4,1093.7 1319.4,1095.3C1321.4,1096.9 1322.9,1099.4 1324.3,1101.6C1325.7,1103.8 1326.7,1106.0 1327.6,1108.6C1328.6,1111.5 1329.1,1114.3 1329.8,1118.0C1330.8,1123.1 1331.8,1129.3 1332.8,1136.2C1334.1,1145.4 1335.2,1157.7 1336.4,1168.5C1337.7,1179.3 1339.1,1190.0 1340.3,1200.8C1341.5,1211.6 1342.5,1222.3 1343.6,1233.1C1344.7,1243.9 1345.8,1253.9 1346.8,1265.4C1348.0,1278.7 1348.9,1294.1 1350.0,1308.5C1351.1,1322.9 1352.0,1338.0 1353.2,1351.6C1354.2,1363.7 1355.5,1376.0 1356.5,1386.0C1357.3,1393.7 1356.6,1404.7 1358.6,1406.5C1359.3,1407.1 1360.5,1407.1 1361.2,1406.5C1362.9,1405.1 1363.1,1398.1 1363.8,1392.0C1365.0,1381.9 1365.5,1365.3 1366.2,1351.6C1366.9,1337.5 1367.3,1323.7 1367.9,1308.5C1368.6,1291.6 1369.4,1271.6 1370.0,1254.7C1370.6,1239.5 1370.9,1224.4 1371.6,1211.6C1372.2,1201.3 1372.8,1192.7 1373.7,1183.6C1374.6,1174.8 1375.7,1165.7 1376.9,1157.7C1377.9,1150.8 1378.9,1145.1 1380.2,1138.3C1381.7,1130.8 1383.0,1120.3 1385.6,1114.6C1387.4,1110.8 1389.6,1107.8 1392.0,1106.0C1393.8,1104.6 1395.7,1104.0 1398.0,1103.9C1400.9,1103.8 1405.3,1104.7 1408.2,1106.4C1411.2,1108.2 1413.7,1111.6 1415.7,1114.6C1417.6,1117.6 1417.7,1122.8 1420.0,1124.3C1421.9,1125.6 1425.7,1125.6 1427.6,1124.3C1429.9,1122.8 1430.3,1116.9 1431.9,1114.6C1432.9,1113.1 1433.8,1111.6 1435.1,1111.4C1436.6,1111.2 1438.8,1112.9 1440.5,1114.6C1443.0,1117.1 1444.4,1122.7 1447.0,1126.5C1449.7,1130.6 1453.1,1135.6 1456.6,1138.3C1459.3,1140.4 1462.3,1140.5 1465.3,1142.2C1468.9,1144.3 1473.2,1150.2 1476.5,1150.2C1479.2,1150.2 1481.1,1146.9 1483.6,1144.8C1486.6,1142.3 1490.9,1139.3 1493.3,1136.2C1495.4,1133.5 1495.7,1130.0 1497.6,1127.6C1499.3,1125.4 1501.8,1124.2 1504.0,1122.2C1506.5,1119.9 1509.4,1114.6 1511.6,1114.6C1513.2,1114.6 1514.6,1117.0 1515.9,1118.9C1517.6,1121.4 1518.6,1128.4 1520.2,1128.6C1521.5,1128.8 1523.2,1125.5 1524.5,1123.2C1526.2,1120.1 1526.8,1114.6 1528.8,1111.4C1530.5,1108.7 1533.3,1104.7 1535.3,1104.9C1537.3,1105.1 1539.3,1109.5 1540.8,1112.5C1542.7,1116.1 1544.0,1120.2 1545.1,1125.4C1546.8,1132.9 1547.3,1143.4 1548.3,1153.4C1549.4,1164.8 1550.2,1179.7 1551.5,1190.0C1552.5,1197.5 1553.3,1209.2 1554.8,1209.4C1556.0,1209.5 1558.0,1203.4 1559.1,1198.6C1561.1,1190.1 1560.0,1170.7 1562.3,1162.0C1563.7,1156.8 1565.7,1150.4 1567.7,1150.2C1569.6,1150.0 1572.0,1160.0 1574.2,1159.9C1576.7,1159.8 1579.6,1145.7 1581.7,1145.9C1583.9,1146.1 1585.6,1155.8 1587.1,1162.0C1589.0,1170.0 1590.1,1181.0 1591.4,1190.0C1592.6,1198.2 1593.5,1205.6 1594.6,1213.7C1595.7,1222.1 1596.4,1232.2 1597.9,1239.6C1599.1,1245.4 1600.8,1254.7 1602.2,1254.7C1603.7,1254.7 1604.3,1236.8 1606.5,1236.3C1608.2,1236.0 1611.3,1245.3 1612.9,1245.0C1614.5,1244.8 1615.1,1239.2 1616.2,1235.3C1617.7,1229.6 1618.8,1219.9 1620.5,1213.7C1621.8,1208.8 1622.9,1204.5 1624.8,1200.8C1626.5,1197.5 1629.7,1195.0 1631.2,1192.2C1632.4,1190.0 1631.9,1186.8 1633.4,1185.7C1634.9,1184.7 1638.0,1185.2 1639.9,1185.7C1641.5,1186.1 1642.7,1188.2 1644.2,1187.9C1646.3,1187.5 1647.9,1182.0 1650.6,1180.3C1653.3,1178.6 1657.8,1176.6 1660.3,1177.5C1662.8,1178.4 1664.3,1182.1 1665.7,1185.7C1667.7,1191.0 1667.8,1199.6 1669.0,1207.3C1670.3,1216.0 1670.7,1230.2 1673.3,1235.3C1674.5,1237.6 1676.3,1239.9 1677.6,1239.6C1680.1,1239.0 1682.0,1225.7 1684.0,1220.2C1685.5,1216.1 1686.5,1212.4 1688.3,1209.4C1689.8,1206.8 1691.8,1203.0 1693.7,1203.0C1695.8,1203.1 1698.5,1208.1 1700.2,1211.6C1702.3,1215.8 1703.2,1221.1 1704.5,1226.6C1706.1,1233.1 1707.3,1241.2 1708.8,1248.2C1710.2,1254.8 1711.5,1261.0 1713.1,1267.6C1714.8,1274.6 1716.7,1281.5 1718.5,1289.1C1720.5,1297.5 1723.1,1306.9 1724.5,1315.7C1725.9,1324.2 1725.9,1333.2 1727.0,1341.2C1728.0,1348.4 1729.4,1355.7 1730.6,1361.6C1731.5,1366.2 1732.1,1373.8 1733.2,1373.9C1734.2,1374.0 1735.8,1367.8 1736.7,1363.7C1738.0,1357.7 1738.0,1349.3 1738.8,1341.2C1739.7,1331.8 1740.9,1321.1 1741.8,1310.6C1742.7,1299.5 1743.6,1288.3 1744.3,1276.2C1745.1,1262.6 1745.5,1246.4 1746.5,1233.1C1747.4,1221.5 1747.8,1208.6 1749.7,1200.8C1750.8,1196.1 1752.7,1189.9 1754.0,1190.0C1755.6,1190.1 1757.2,1198.8 1758.3,1205.1C1760.0,1215.0 1760.2,1231.2 1760.9,1243.9C1761.5,1256.1 1761.8,1269.0 1762.2,1280.0C1762.6,1289.2 1762.5,1297.5 1763.3,1305.5C1764.0,1312.7 1764.3,1322.7 1766.3,1325.9C1767.2,1327.3 1768.5,1328.3 1769.4,1328.0C1771.0,1327.4 1771.3,1319.9 1772.4,1315.7C1773.6,1311.3 1774.8,1302.6 1776.5,1302.4C1777.7,1302.2 1779.6,1305.7 1780.6,1308.6C1782.4,1313.6 1782.0,1323.7 1782.7,1331.0C1783.4,1338.0 1783.9,1344.2 1784.7,1351.4C1785.6,1359.4 1786.9,1368.4 1787.8,1376.9C1788.7,1385.4 1789.3,1393.9 1790.3,1402.4C1791.3,1410.9 1792.4,1420.1 1793.9,1428.0C1795.2,1434.9 1796.2,1446.3 1798.5,1447.3C1799.5,1447.7 1801.1,1446.7 1802.0,1445.3C1804.2,1442.0 1804.3,1431.0 1805.1,1422.9C1806.1,1413.5 1806.5,1402.4 1807.1,1392.2C1807.7,1382.0 1808.1,1370.0 1808.7,1361.6C1809.1,1355.6 1809.4,1351.2 1810.2,1346.3C1811.0,1341.7 1811.9,1333.4 1813.3,1333.1C1814.3,1332.9 1815.7,1336.1 1816.8,1338.2C1818.4,1341.1 1819.7,1349.3 1821.4,1349.4C1822.9,1349.5 1825.3,1344.7 1826.5,1341.2C1828.3,1336.1 1827.8,1327.6 1828.6,1320.8C1829.5,1314.0 1830.6,1307.8 1831.6,1300.4C1832.8,1291.5 1832.9,1278.8 1834.9,1271.1C1836.3,1265.8 1839.0,1262.8 1840.3,1258.2C1841.6,1253.4 1842.0,1248.6 1842.5,1243.1C1843.1,1236.6 1843.1,1228.8 1843.6,1221.6C1844.1,1214.4 1844.9,1207.5 1845.7,1200.0C1846.6,1191.8 1847.5,1182.2 1848.9,1174.2C1850.1,1167.2 1851.5,1160.8 1853.2,1154.8C1854.8,1149.4 1856.4,1144.6 1858.6,1139.7C1860.8,1134.9 1863.4,1128.2 1866.2,1125.7C1867.9,1124.2 1869.9,1123.2 1871.6,1123.6C1873.9,1124.2 1876.2,1128.1 1878.0,1131.1C1880.1,1134.7 1881.3,1144.0 1883.0,1144.0C1884.6,1144.0 1885.7,1135.2 1887.7,1132.2C1889.2,1129.9 1890.9,1128.4 1893.1,1126.8C1895.5,1125.1 1898.8,1123.5 1901.7,1122.5C1904.5,1121.6 1907.5,1120.7 1910.3,1121.0C1913.2,1121.3 1916.7,1122.6 1919.0,1124.6C1921.4,1126.6 1922.0,1131.4 1924.3,1133.2C1926.4,1134.8 1930.1,1133.4 1931.9,1135.4C1934.6,1138.4 1934.0,1146.9 1935.1,1152.6C1936.2,1158.4 1936.7,1165.6 1938.3,1169.9C1939.3,1172.7 1940.8,1176.4 1942.0,1176.3C1943.3,1176.2 1944.8,1171.3 1945.9,1167.7C1947.5,1162.2 1947.8,1152.1 1949.1,1146.2C1950.0,1141.9 1950.5,1138.2 1952.3,1135.4C1953.9,1133.0 1956.6,1130.0 1958.8,1130.0C1961.0,1130.0 1963.3,1133.6 1965.4,1135.4C1967.5,1137.2 1969.5,1140.9 1971.6,1140.9C1974.0,1140.9 1976.7,1136.0 1979.0,1134.1C1980.9,1132.5 1982.4,1130.3 1984.5,1130.0C1986.9,1129.6 1990.4,1130.7 1992.7,1132.7C1995.8,1135.5 1997.8,1142.0 1999.5,1147.7C2001.5,1154.5 2002.0,1162.8 2002.9,1170.8C2003.9,1179.5 2004.2,1188.9 2004.9,1198.0C2005.6,1207.1 2006.3,1216.1 2006.9,1225.2C2007.5,1234.3 2007.7,1244.0 2008.3,1252.4C2008.8,1259.7 2009.7,1265.6 2010.3,1272.9C2011.0,1281.3 2011.7,1291.0 2012.4,1300.1C2013.1,1309.2 2013.5,1318.9 2014.4,1327.3C2015.2,1334.6 2015.9,1343.1 2017.1,1347.7C2017.7,1350.1 2018.5,1353.1 2019.2,1353.1C2020.1,1353.1 2021.2,1348.5 2021.9,1345.0C2023.1,1339.1 2023.3,1328.9 2023.9,1320.5C2024.5,1311.7 2024.8,1302.4 2025.3,1293.3C2025.8,1284.2 2026.1,1275.2 2026.7,1266.1C2027.3,1257.0 2028.1,1247.2 2028.7,1238.8C2029.2,1231.5 2029.4,1224.5 2030.1,1218.4C2030.6,1213.4 2031.5,1209.3 2032.1,1204.8C2032.7,1200.3 2032.4,1194.9 2033.5,1191.2C2034.3,1188.5 2035.5,1184.7 2036.9,1184.4C2038.2,1184.1 2039.9,1187.3 2041.6,1188.5C2043.3,1189.8 2045.1,1191.6 2047.1,1191.9C2049.2,1192.2 2051.8,1189.3 2053.9,1189.9C2056.4,1190.7 2058.7,1198.0 2060.7,1198.0C2062.2,1198.0 2063.2,1193.5 2064.8,1193.3C2066.4,1193.1 2068.9,1194.7 2070.2,1196.7C2072.2,1199.7 2071.6,1211.3 2072.9,1211.6C2073.7,1211.8 2074.9,1209.5 2075.6,1207.6C2076.8,1204.1 2076.1,1195.9 2077.0,1191.2C2077.7,1187.6 2078.4,1184.5 2079.7,1181.7C2080.9,1179.1 2082.9,1177.2 2084.5,1174.9"/>
</g>
<g stroke="#000" stroke-linecap="square"><line x1="203" y1="151.4" x2="2092" y2="151.4" stroke-width="5"/><line x1="203" y1="1541" x2="2092" y2="1541" stroke-width="6.1"/><line x1="203" y1="151.4" x2="203" y2="1541" stroke-width="6.1"/><line x1="2092" y1="151.4" x2="2092" y2="1541" stroke-width="6"/></g>
<g stroke="#000" stroke-width="6.1"><line x1="202.5" y1="1541" x2="202.5" y2="1568"/><line x1="367.6" y1="1541" x2="367.6" y2="1554"/><line x1="532.7" y1="1541" x2="532.7" y2="1568"/><line x1="697.8" y1="1541" x2="697.8" y2="1554"/><line x1="862.9" y1="1541" x2="862.9" y2="1568"/><line x1="1028.0" y1="1541" x2="1028.0" y2="1554"/><line x1="1193.1" y1="1541" x2="1193.1" y2="1568"/><line x1="1358.2" y1="1541" x2="1358.2" y2="1554"/><line x1="1523.3" y1="1541" x2="1523.3" y2="1568"/><line x1="1688.4" y1="1541" x2="1688.4" y2="1554"/><line x1="1853.5" y1="1541" x2="1853.5" y2="1568"/><line x1="2018.6" y1="1541" x2="2018.6" y2="1554"/></g>
<text transform="translate(202.5,1632.5) scale(1,1.045)" x="0" y="0" font-family="'Liberation Sans', Arial, sans-serif" font-size="58.5" fill="#000" text-anchor="middle">3500</text>
<text transform="translate(532.7,1632.5) scale(1,1.045)" x="0" y="0" font-family="'Liberation Sans', Arial, sans-serif" font-size="58.5" fill="#000" text-anchor="middle">3000</text>
<text transform="translate(862.9,1632.5) scale(1,1.045)" x="0" y="0" font-family="'Liberation Sans', Arial, sans-serif" font-size="58.5" fill="#000" text-anchor="middle">2500</text>
<text transform="translate(1193.1,1632.5) scale(1,1.045)" x="0" y="0" font-family="'Liberation Sans', Arial, sans-serif" font-size="58.5" fill="#000" text-anchor="middle">2000</text>
<text transform="translate(1523.3,1632.5) scale(1,1.045)" x="0" y="0" font-family="'Liberation Sans', Arial, sans-serif" font-size="58.5" fill="#000" text-anchor="middle">1500</text>
<text transform="translate(1853.5,1632.5) scale(1,1.045)" x="0" y="0" font-family="'Liberation Sans', Arial, sans-serif" font-size="58.5" fill="#000" text-anchor="middle">1000</text>
<text transform="translate(823,1752) scale(1,1.025)" x="0" y="0" font-family="'Liberation Sans', Arial, sans-serif" font-size="72" fill="#000">Wavenumber (cm</text>
<text transform="translate(1388,1722.8) scale(1,1.0)" x="0" y="0" font-family="'Liberation Sans', Arial, sans-serif" font-size="50" fill="#000">−1</text>
<text transform="translate(1448,1751.3) scale(1,1.0)" x="0" y="0" font-family="'Liberation Sans', Arial, sans-serif" font-size="84" fill="#000">)</text>
<text transform="translate(1396.8,135.5) scale(1,1.04)" x="0" y="0" font-family="'Liberation Sans', Arial, sans-serif" font-size="72" fill="#000">1571</text>
<text transform="translate(1562.9,133.8) scale(1,1.04)" x="0" y="0" font-family="'Liberation Sans', Arial, sans-serif" font-size="72" fill="#000">1376</text>
<text font-family="'Liberation Sans', Arial, sans-serif" font-size="115" x="38" y="162.3" fill="#000">(a<tspan dx="8">)</tspan></text>
<g stroke-width="7" stroke-linecap="round">
<line x1="250.4" y1="396.3" x2="409.5" y2="396.3" stroke="#0000ff"/>
<line x1="254.4" y1="812.5" x2="415.3" y2="812.5" stroke="#ff0000"/>
<line x1="254.4" y1="1252.3" x2="415.3" y2="1252.3" stroke="#000"/>
</g>
<text transform="translate(430.3,420.8) scale(1,1.03)" x="0" y="0" font-family="'Liberation Sans', Arial, sans-serif" font-size="72" fill="#000">PLGA-Met@MOF-5</text>
<text transform="translate(434.2,835.8) scale(1,1.03)" x="0" y="0" font-family="'Liberation Sans', Arial, sans-serif" font-size="72" fill="#000">PLGA-Ceph@MOF-5</text>
<text transform="translate(434.2,1277) scale(1,1.04)" x="0" y="0" font-family="'Liberation Sans', Arial, sans-serif" font-size="72" fill="#000">PLGA</text>
</svg>
</body></html>
